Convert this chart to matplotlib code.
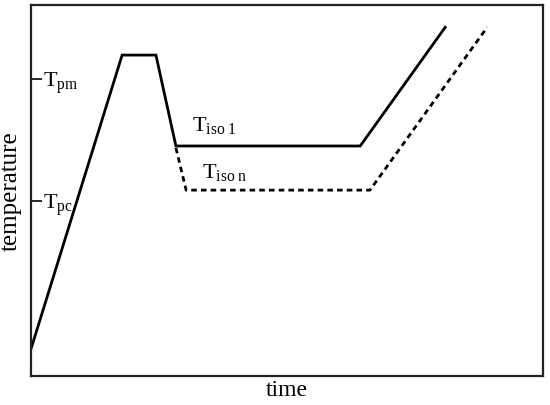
import matplotlib
matplotlib.use('Agg')
import matplotlib.pyplot as plt

plt.rcParams['font.family'] = ['Liberation Serif', 'DejaVu Serif']
plt.rcParams['mathtext.fontset'] = 'custom'
plt.rcParams['mathtext.rm'] = 'Liberation Serif'
plt.rcParams['mathtext.it'] = 'Liberation Serif'

# solid profile (first isotherm)
time_1 = [0, 17.8, 24.4, 28.3, 64.3, 80.9]
temp_1 = [7.3, 86.5, 86.5, 62.0, 62.0, 94.0]

# dashed profile (n-th isotherm)
time_n = [28.3, 30.3, 66.2, 89.1]
temp_n = [61.5, 50.1, 50.1, 94.0]

tick_vals = [47.2, 80.1]
tick_names = [r'T$_{\rm pc}$', r'T$_{\rm pm}$']

fig = plt.figure(figsize=(5.5, 4.06), dpi=100)
ax = fig.add_axes([31/550, 1 - 377/406, 512/550, 371/406])

ax.plot(time_1, temp_1, color='black', lw=2.0, solid_joinstyle='miter')
ax.plot(time_n, temp_n, color='black', lw=2.0, dashes=(2.0, 1.5))

ax.set_xlim(0, 100)
ax.set_ylim(0, 100)
ax.set_xticks([])
ax.set_yticks(tick_vals)
ax.set_yticklabels([])
ax.tick_params(axis='y', direction='in', length=8, width=1.2, color='black')
for s in ax.spines.values():
    s.set_linewidth(1.6)
    s.set_color('#222222')

for v, name in zip(tick_vals, tick_names):
    ax.text(2.3, v - 1.9, name, fontsize=16, va='baseline', ha='left')

ax.text(31.4, 66.3, r'T$_{\rm iso\ 1}$', fontsize=16, ha='left', va='baseline')
ax.text(33.4, 53.6, r'T$_{\rm iso\ n}$', fontsize=16, ha='left', va='baseline')

ax.set_xlabel('time', fontsize=17, labelpad=2)
ax.set_ylabel('temperature', fontsize=18, labelpad=3)

fig.savefig('out.png', dpi=100)
